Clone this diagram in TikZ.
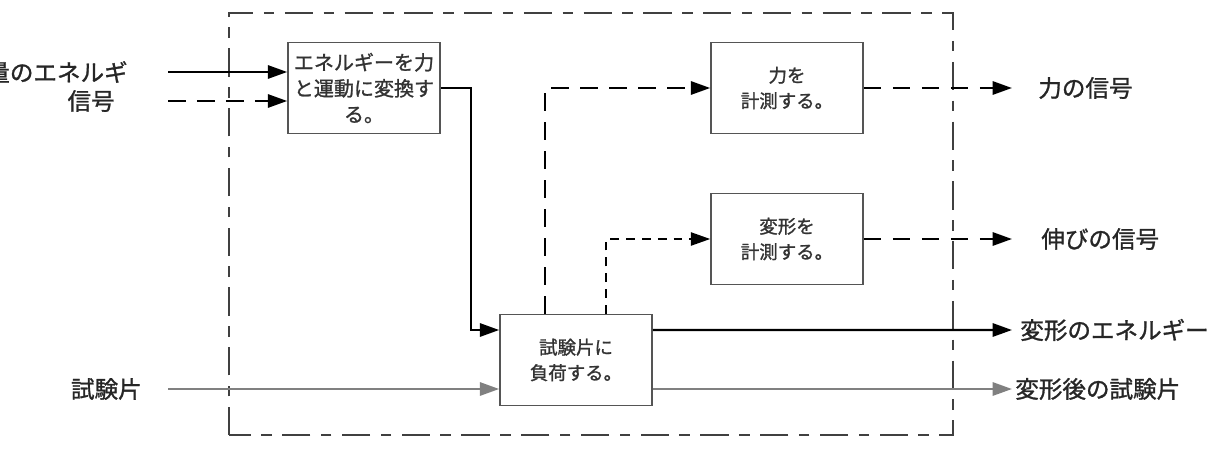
\documentclass[tikz,border=0pt]{standalone}
\usepackage{fontspec}
\newfontfamily\jpfont[FakeBold=1.2]{Noto Sans CJK JP}
\usetikzlibrary{arrows.meta,positioning}
\definecolor{boxgray}{RGB}{85,85,85}
\definecolor{specgray}{RGB}{128,128,128}

\begin{document}
\begin{tikzpicture}[font=\jpfont, >={Triangle[length=11pt,width=7.5pt]},
  procbox/.style={draw=boxgray, line width=0.9pt, fill=white, text=black!80,
    minimum width=3.04cm, minimum height=1.82cm, align=center, inner sep=0pt,
    font=\jpfont\fontsize{10.5}{14.5}\selectfont},
  sigtext/.style={inner sep=0pt, text=black!85, font=\jpfont\fontsize{13.4}{16}\selectfont},
  energy/.style={->, line width=1.4pt},
  signal/.style={->, line width=1.4pt, dash pattern=on 10pt off 6.5pt},
  finesig/.style={->, line width=1pt, dash pattern=on 5pt off 4pt},
  specimen/.style={->, specgray, line width=1.4pt}]
  \useasboundingbox (0,0) rectangle (24.46,9);
  % system boundary
  \draw[black!75, line width=1pt, dash pattern=on 16pt off 6pt on 6pt off 6pt]
    (4.58,0.3) rectangle (19.06,8.74);
  % process boxes
  \node[procbox, font=\jpfont\fontsize{11.4}{14.8}\selectfont] (convert) at (7.28,7.24) {エネルギーを力\\と運動に変換す\\る。};
  \node[procbox] (forcebox) at (15.74,7.24) {力を\\計測する。};
  \node[procbox] (strainbox) at (15.74,4.22) {変形を\\計測する。};
  \node[procbox] (loadbox) at (11.52,1.8) {試験片に\\負荷する。};
  % free ends
  \coordinate (e-in) at (3.36,7.56);
  \coordinate (s-in) at (3.36,6.98);
  \coordinate (t-in) at (3.36,1.22);
  \coordinate (f-end) at (20.24,7.24);
  \coordinate (x-end) at (20.24,4.22);
  \coordinate (d-end) at (20.24,2.4);
  \coordinate (p-end) at (20.24,1.22);
  % labels
  \node[sigtext, anchor=east, left=0.8cm of e-in] (energy-in) {量のエネルギ};
  \node[sigtext, anchor=east, left=1.06cm of s-in] (signal-in) {信号};
  \node[sigtext, anchor=east, left=0.52cm of t-in] (piece-in) {試験片};
  \node[sigtext, right=0.52cm of f-end] (force-out) {力の信号};
  \node[sigtext, right=0.58cm of x-end] (strain-out) {伸びの信号};
  \node[sigtext, right=0.16cm of d-end] (energy-out) {変形のエネルギー};
  \node[sigtext, right=0.06cm of p-end] (piece-out) {変形後の試験片};
  % connectors
  \draw[energy] (e-in) -- (e-in -| convert.west);
  \draw[signal] (s-in) -- (s-in -| convert.west);
  \draw[energy] (convert.east) -- ++(0.6,0) |- ([yshift=0.6cm]loadbox.west);
  \draw[signal] ([xshift=-0.62cm]loadbox.north) |- (forcebox.west);
  \draw[finesig] ([xshift=0.6cm]loadbox.north) |- (strainbox.west);
  \draw[signal] (forcebox.east) -- (f-end);
  \draw[signal] (strainbox.east) -- (x-end);
  \draw[energy] ([yshift=0.6cm]loadbox.east) -- (d-end);
  \draw[specimen] (t-in) -- (t-in -| loadbox.west);
  \draw[specimen] ([yshift=-0.58cm]loadbox.east) -- (p-end);
\end{tikzpicture}
\end{document}
